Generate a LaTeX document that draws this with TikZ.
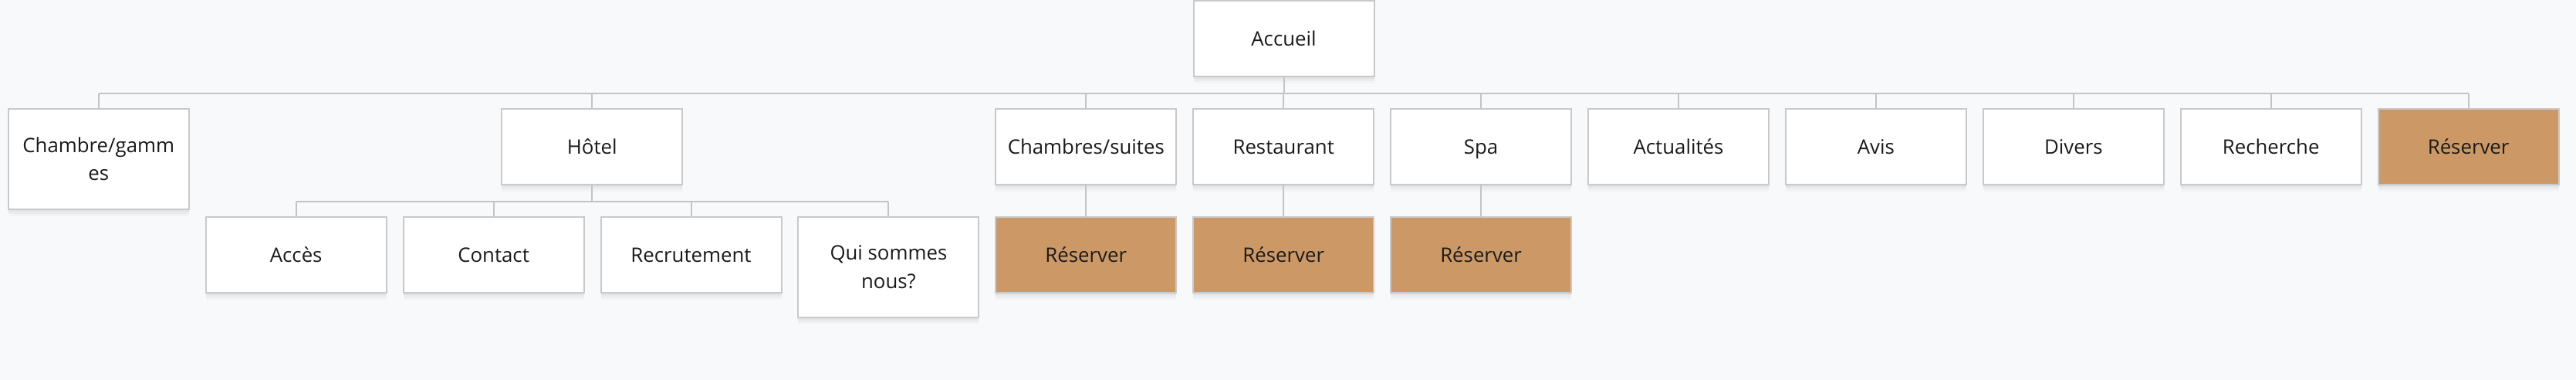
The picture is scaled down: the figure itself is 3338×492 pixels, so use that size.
\documentclass[tikz,border=0pt]{standalone}
\usepackage{fontspec}
\setmainfont{Open Sans}
\usetikzlibrary{shadows}
\definecolor{bgcol}{HTML}{F8F9FB}
\definecolor{boxline}{HTML}{C9C9C9}
\definecolor{conn}{HTML}{C4C4C4}
\definecolor{resfill}{HTML}{CC9966}
\definecolor{txt}{HTML}{1A1A1A}
\tikzset{
  softshadow/.style={
    general shadow={draw=none, fill=black, fill opacity=0.035, shadow xshift=0pt, shadow yshift=-1.5pt},
    general shadow={draw=none, fill=black, fill opacity=0.03, shadow xshift=0pt, shadow yshift=-3pt},
    general shadow={draw=none, fill=black, fill opacity=0.025, shadow xshift=0pt, shadow yshift=-4.5pt}},
  basebox/.style={draw=boxline, line width=1pt, fill=white, minimum width=117pt, minimum height=49pt, inner sep=0pt,
    text=txt, font=\fontsize{12.9}{18.3}\selectfont, softshadow},
  page/.style={basebox, text height=12.7pt, text depth=3.5pt},
  tallpage/.style={basebox, align=center, minimum height=65pt},
  resbox/.style={page, fill=resfill},
  link/.style={draw=conn, line width=1pt}
}
\begin{document}
\begin{tikzpicture}[x=0.5pt, y=-0.5pt]
\fill[bgcol] (0,0) rectangle (3338,492);
\useasboundingbox (0,0) rectangle (3338,492);
% top
\node[page] (acc) at (1663.5,50) {Accueil};
% level 1
\node[tallpage] (c0) at (127.8,206) {Chambre/gamm\\es};
\node[page] (hotel) at (767.3,190) {Hôtel};
\node[page] (cs) at (1407.3,190) {Chambres/suites};
\node[page] (resto) at (1663.2,190) {Restaurant};
\node[page] (spa) at (1919.1,190) {Spa};
\node[page] (actu) at (2175.0,190) {Actualités};
\node[page] (avis) at (2430.9,190) {Avis};
\node[page] (divers) at (2686.8,190) {Divers};
\node[page] (rech) at (2942.7,190) {Recherche};
\node[resbox] (res0) at (3198.6,190) {Réserver};
% level 2
\node[page] (acces) at (383.7,330) {Accès};
\node[page] (contact) at (639.6,330) {Contact};
\node[page] (recru) at (895.5,330) {Recrutement};
\node[tallpage] (qui) at (1151.4,346) {Qui sommes\\nous?};
\node[resbox] (res1) at (1407.3,330) {Réserver};
\node[resbox] (res2) at (1663.2,330) {Réserver};
\node[resbox] (res3) at (1919.1,330) {Réserver};
% buses
\coordinate (bus1) at (0,121);
\coordinate (bus2) at (0,261);
\draw[link] (acc.south) -- (acc.south |- bus1);
\draw[link] (c0.north |- bus1) -- (res0.north |- bus1);
\foreach \n in {c0,hotel,cs,resto,spa,actu,avis,divers,rech,res0}
  \draw[link] (\n.north |- bus1) -- (\n.north);
\draw[link] (hotel.south) -- (hotel.south |- bus2);
\draw[link] (acces.north |- bus2) -- (qui.north |- bus2);
\foreach \n in {acces,contact,recru,qui}
  \draw[link] (\n.north |- bus2) -- (\n.north);
\draw[link] (cs.south) -- (res1.north);
\draw[link] (resto.south) -- (res2.north);
\draw[link] (spa.south) -- (res3.north);
\end{tikzpicture}
\end{document}
